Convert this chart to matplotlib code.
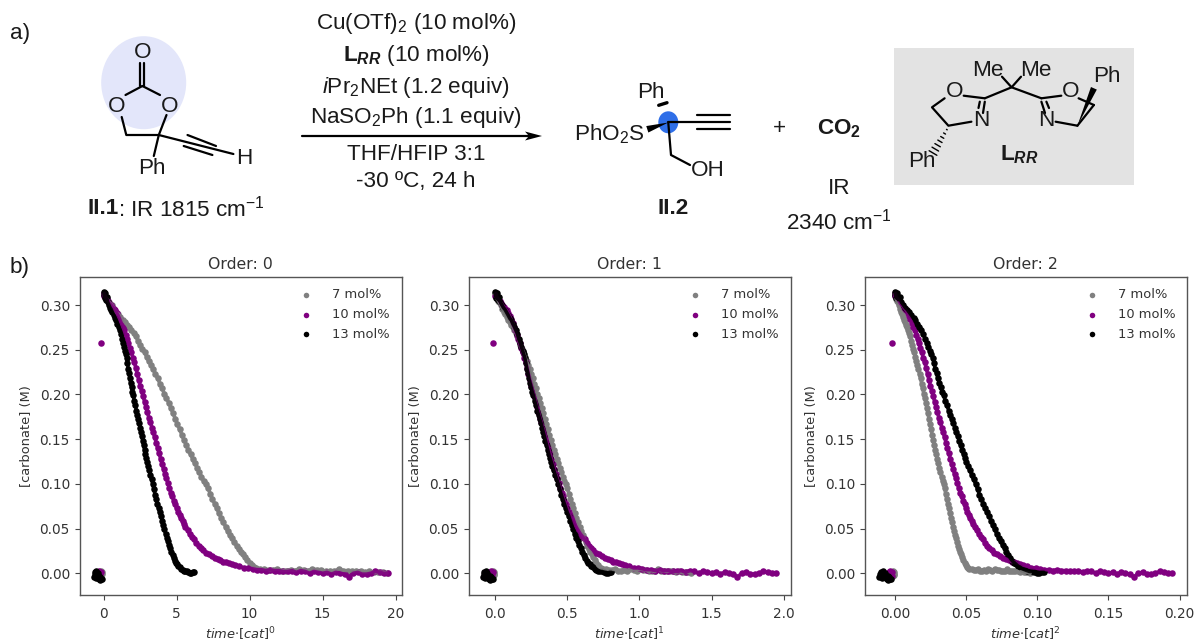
import numpy as np
import matplotlib
matplotlib.use("Agg")
import matplotlib.pyplot as plt
from matplotlib.patches import Ellipse, Rectangle, Polygon

plt.rcParams['mathtext.fontset'] = 'custom'
plt.rcParams['mathtext.rm'] = 'Liberation Sans'
plt.rcParams['mathtext.it'] = 'Liberation Sans:italic'
plt.rcParams['mathtext.bf'] = 'Liberation Sans:bold'
plt.rcParams['mathtext.bfit'] = 'Liberation Sans:italic:bold'

# ---------- data: (time, [carbonate]) ----------
points_7 = [(-.28,.001),(-.24,-.003),(-.2,.002),(-.16,-.002),(-.12,.001),(-.08,-.001),
 (0,.312),(.1,.310),(.2,.307),(.3,.305),(.4,.303),(.55,.300),(.7,.296),(.85,.292),(1,.290),(1.15,.287),
 (1.3,.283),(1.45,.281),(1.6,.278),(1.75,.275),(1.9,.272),(2.05,.269),(2.2,.265),(2.35,.260),(2.5,.255),
 (2.65,.251),(2.8,.247),(2.95,.242),(3.1,.237),(3.25,.233),(3.4,.228),(3.55,.223),(3.7,.218),(3.85,.212),
 (4,.207),(4.15,.201),(4.3,.196),(4.45,.191),(4.6,.185),(4.75,.179),(4.9,.173),(5.05,.167),(5.2,.161),
 (5.35,.155),(5.5,.149),(5.65,.144),(5.8,.138),(5.95,.133),(6.1,.128),(6.25,.123),(6.4,.118),(6.55,.113),
 (6.7,.108),(6.85,.103),(7,.100),(7.15,.095),(7.3,.089),(7.45,.083),(7.6,.078),(7.75,.073),(7.9,.067),
 (8.05,.062),(8.2,.057),(8.35,.052),(8.5,.047),(8.65,.043),(8.8,.039),(8.95,.035),(9.1,.031),(9.25,.027),
 (9.4,.024),(9.55,.021),(9.7,.018),(9.85,.015),(10,.012),(10.15,.009),(10.3,.007),(10.45,.006),(10.7,.005),
 (11,.005),(11.3,.004),(11.6,.004),(11.9,.005),(12.2,.003),(12.5,.003),(12.8,.004),(13.1,.003),(13.4,.005),
 (13.7,.004),(14,.003),(14.3,.005),(14.6,.004),(14.9,.004),(15.2,.002),(15.5,.003),(15.8,.002),(16.1,.005),
 (16.4,.003),(16.7,.003),(17,.002),(17.3,.003),(17.6,.002),(17.9,.001),(18.2,.002),(18.5,.001),(18.8,.001),
 (19.1,.001),(19.4,.000)]

points_10 = [(-.18,.258),(-.38,.001),(-.34,-.002),(-.3,.003),(-.26,.000),(-.22,-.003),(-.18,.001),
 (0,.31),(.05,.313),(.1,.309),(.2,.307),(.3,.305),(.4,.302),(.5,.300),(.6,.298),(.7,.296),(.8,.294),
 (.9,.291),(1,.288),(1.1,.284),(1.2,.280),(1.3,.276),(1.4,.272),(1.5,.267),(1.6,.262),(1.7,.257),(1.8,.252),
 (1.9,.247),(2,.241),(2.1,.236),(2.2,.230),(2.3,.223),(2.4,.216),(2.5,.210),(2.6,.204),(2.7,.198),(2.8,.192),
 (2.9,.186),(3,.180),(3.1,.174),(3.2,.169),(3.3,.163),(3.4,.158),(3.5,.152),(3.6,.146),(3.7,.140),(3.8,.134),
 (3.9,.128),(4,.122),(4.1,.117),(4.2,.111),(4.3,.106),(4.4,.101),(4.5,.095),(4.6,.090),(4.7,.086),(4.8,.081),
 (4.9,.077),(5,.073),(5.1,.069),(5.2,.065),(5.3,.062),(5.4,.058),(5.5,.055),(5.6,.052),(5.75,.048),(5.9,.044),
 (6.05,.041),(6.2,.038),(6.35,.034),(6.5,.031),(6.65,.028),(6.8,.026),(7,.023),(7.2,.021),(7.4,.019),(7.6,.017),
 (7.8,.016),(8,.015),(8.2,.013),(8.4,.013),(8.6,.011),(8.8,.010),(9,.009),(9.3,.008),(9.6,.006),(9.9,.006),
 (10.2,.005),(10.5,.004),(10.8,.004),(11.1,.003),(11.4,.004),(11.7,.003),(12,.003),(12.3,.002),(12.6,.002),
 (12.9,.003),(13.2,.001),(13.5,.003),(13.8,.002),(14.1,.000),(14.4,.002),(14.7,.001),(15,.000),(15.3,.001),
 (15.6,-.001),(15.9,.001),(16.2,.000),(16.5,-.001),(16.8,-.004),(17.1,.000),(17.4,.001),(17.7,-.001),(18,-.001),
 (18.3,.000),(18.6,.002),(18.9,.001),(19.2,.000),(19.5,.000)]

points_13 = [(-.66,-.004),(-.62,-.001),(-.58,.001),(-.54,-.005),(-.5,.002),(-.46,-.002),(-.42,.000),(-.38,-.005),
 (-.34,-.006),(-.3,-.003),(-.26,-.007),(-.22,-.004),(-.18,-.006),(-.14,-.006),
 (0,.315),(.03,.311),(.06,.308),(.1,.313),(.15,.306),(.2,.309),(.28,.303),(.36,.300),(.44,.297),(.52,.295),
 (.6,.292),(.68,.289),(.78,.285),(.86,.283),(.94,.279),(1.02,.276),(1.1,.272),(1.18,.268),(1.26,.262),(1.33,.258),
 (1.4,.253),(1.46,.249),(1.52,.245),(1.58,.241),(1.63,.235),(1.68,.229),(1.74,.224),(1.79,.218),(1.85,.213),
 (1.91,.208),(1.97,.203),(2.03,.199),(2.1,.193),(2.17,.188),(2.24,.182),(2.31,.177),(2.38,.172),(2.44,.168),
 (2.5,.163),(2.56,.158),(2.62,.153),(2.68,.148),(2.74,.143),(2.8,.138),(2.86,.133),(2.92,.129),(2.98,.125),
 (3.05,.120),(3.12,.115),(3.2,.110),(3.28,.105),(3.36,.100),(3.44,.094),(3.52,.088),(3.6,.083),(3.68,.078),
 (3.76,.073),(3.84,.068),(3.92,.064),(4,.059),(4.08,.054),(4.16,.049),(4.24,.044),(4.32,.040),(4.4,.036),
 (4.48,.032),(4.56,.028),(4.64,.024),(4.72,.020),(4.8,.017),(4.88,.014),(4.96,.012),(5.04,.010),(5.12,.008),
 (5.2,.007),(5.3,.005),(5.4,.004),(5.5,.003),(5.6,.002),(5.7,.002),(5.8,.001),(5.9,.000),(6,.000),(6.1,.001),(6.2,.001)]

cat_loadings = [0.07, 0.10, 0.13]       # [cat] scale factor used for the normalised time axis
series_labels = ['7 mol%', '10 mol%', '13 mol%']
series_colors = ['#808080', '#800080', '#000000']
orders = [0, 1, 2]
xticks_by_order = [[0, 5, 10, 15, 20], [0.0, 0.5, 1.0, 1.5, 2.0], [0.00, 0.05, 0.10, 0.15, 0.20]]
xfmt_by_order = ['%d', '%.1f', '%.2f']
xlims_by_order = [(-1.64, 20.41), (-0.184, 2.049), (-0.0211, 0.2052)]
yticks = [0.00, 0.05, 0.10, 0.15, 0.20, 0.25, 0.30]
ylim = (-0.0243, 0.3317)
axes_px = [(79.7, 401.7), (468.7, 790.7), (864.7, 1187.0)]

W, H = 1194, 642
fig = plt.figure(figsize=(W / 100, H / 100), dpi=100, facecolor='white')

# ---------- scheme overlay in pixel coordinates ----------
bg = fig.add_axes([0, 0, 1, 1], zorder=0)
bg.set_xlim(0, W)
bg.set_ylim(H, 0)
bg.axis('off')

SF = 'Liberation Sans'
FS = 16.2
LW = 1.6


def T(x, y, s, size=FS, ha='center', **kw):
    bg.text(x, y, s, family=SF, fontsize=size, ha=ha, va='center', color='#1a1a1a', **kw)


def L(*pts, lw=LW, color='black'):
    xs, ys = zip(*pts)
    bg.plot(xs, ys, color=color, lw=lw, solid_capstyle='round', solid_joinstyle='round')


def wedge(p, q, w=3.0):
    p, q = np.array(p, float), np.array(q, float)
    d = q - p
    n = np.array([-d[1], d[0]]) / np.hypot(*d)
    bg.add_patch(Polygon([p, q + n * w, q - n * w], closed=True, fc='black', ec='none'))


def hashed(p, q, n=7, w=4.5):
    p, q = np.array(p, float), np.array(q, float)
    d = q - p
    nn = np.array([-d[1], d[0]]) / np.hypot(*d)
    for f in np.linspace(0.1, 1, n):
        c = p + d * f
        L(c + nn * w * f, c - nn * w * f, lw=1.0)


T(10, 33, 'a)', ha='left')
T(10, 268, 'b)', ha='left')

# carbonate II.1
bg.add_patch(Ellipse((143.7, 82.7), 85, 93, fc='#E3E6FA', ec='none'))
T(142.4, 52.7, 'O'); T(116.7, 106, 'O'); T(169.2, 106, 'O')
T(152.3, 168, 'Ph'); T(244, 158, 'H')
L((140.4, 86), (140.4, 63)); L((144.4, 86), (144.4, 63))
L((142.4, 86), (125.5, 95)); L((142.4, 86), (160, 95))
L((121.7, 117), (126.3, 135), (158.8, 135), (166.5, 115))
L((158.8, 135), (153.8, 156))
L((158.8, 135), (233.4, 154))
L((187.5, 135), (216, 146)); L((183.7, 146), (212.4, 155))
T(118.5, 208.5, 'II.1', ha='right', fontweight='bold')
T(118.5, 208.5, r': IR 1815 cm$^{-1}$', ha='left')

# conditions
T(416, 24, r'Cu(OTf)$_2$ (10 mol%)')
T(416, 55, r'$\mathbf{L}_{\mathbfit{RR}}$ (10 mol%)')
T(416, 87, r'$\mathit{i}$Pr$_2$NEt (1.2 equiv)')
T(416, 117, r'NaSO$_2$Ph (1.1 equiv)')
T(416, 154, 'THF/HFIP 3:1')
T(416, 182, '-30 ºC, 24 h')
L((302, 136), (532, 136))
bg.add_patch(Polygon([(542, 136), (525, 131.5), (529, 136), (525, 140.5)], closed=True, fc='black', ec='none'))

# product II.2
bg.add_patch(Ellipse((668.3, 122.3), 20, 22, fc='#2F6FE8', ec='none'))
T(651, 92, 'Ph'); T(609, 134, r'PhO$_2$S')
T(707.3, 170, 'OH')
L((658.7, 105.3), (667, 102.7), lw=2.4)
wedge((668.3, 122.5), (647.3, 129.3), 3.4)
L((668.3, 122), (730.3, 122)); L((697, 115), (730.3, 115)); L((697, 128.5), (730.3, 128.5))
L((668.3, 123), (671, 155), (690, 165))
T(673, 209, 'II.2', fontweight='bold')

T(779, 128, '+')
T(839.4, 129, r'$\mathbf{CO_2}$')
T(839.4, 189, 'IR')
T(838.6, 221.7, r'2340 cm$^{-1}$')

# ligand L_RR
bg.add_patch(Rectangle((893.7, 48.3), 240.3, 136.7, fc='#E3E3E3', ec='none'))
T(987.9, 70.7, 'Me'); T(1035.7, 70.7, 'Me')
T(954.2, 91.7, 'O'); T(1070.9, 91.7, 'O')
T(981, 120.7, 'N'); T(1046, 120.7, 'N')
T(1106.5, 76, 'Ph'); T(921.7, 161.7, 'Ph')
T(1019, 155, r'$\mathbf{L}_{\mathbfit{RR}}$')
L((1002, 76.7), (1011.6, 87.3), (1021, 76.7))
L((984.8, 98.3), (1011.6, 87.3), (1041.4, 98.3))
L((984.8, 98.3), (963.7, 95.7))
L((944.6, 98.3), (932, 107.3), (948.4, 125.7), (971.4, 121.7))
L((984.8, 101.7), (983, 113)); L((979.8, 101.7), (978.5, 108))
L((1041.4, 98.3), (1061.3, 95.7))
L((1041.4, 101.7), (1045, 113)); L((1046.4, 101.7), (1049, 108))
L((1055.6, 121.7), (1077.4, 125.7))
wedge((1077.4, 125.7), (1093.9, 88.3), 3.2)
L((1077.4, 125.7), (1093.9, 105))
L((1078.6, 98.3), (1093.9, 105))
hashed((948.4, 127), (933, 153))

# ---------- kinetic panels ----------
all_points = [points_7, points_10, points_13]
top, bottom = 276.7, 595.0
for k, order in enumerate(orders):
    x0, x1 = axes_px[k]
    ax = fig.add_axes([x0 / W, 1 - bottom / H, (x1 - x0) / W, (bottom - top) / H], zorder=2, facecolor='none')
    for pts, cat, lab, col in zip(all_points, cat_loadings, series_labels, series_colors):
        arr = np.array(pts)
        xs = arr[:, 0] * cat ** order
        run = arr[:, 0] >= 0
        ax.plot(xs[run], arr[run, 1], color=col, lw=2.6, alpha=0.9, solid_capstyle='round')
        ax.scatter(xs, arr[:, 1], s=22, color=col, label=lab, linewidths=0)
    ax.set_xlim(*xlims_by_order[k])
    ax.set_ylim(*ylim)
    ax.set_xticks(xticks_by_order[k])
    ax.set_xticklabels([xfmt_by_order[k] % v for v in xticks_by_order[k]])
    ax.set_yticks(yticks)
    ax.set_yticklabels(['%.2f' % v for v in yticks])
    ax.tick_params(labelsize=9.8, colors='#444444', labelcolor='#333333', length=3.5, width=0.8)
    ax.tick_params(axis='x', pad=5.5)
    for s in ax.spines.values():
        s.set_color('#555555')
        s.set_linewidth(1.0)
    ax.set_title('Order: %d' % order, fontsize=11.3, color='#333333', pad=5.5)
    ax.set_ylabel('[carbonate] (M)', fontsize=9.4, color='#333333', labelpad=5)
    ax.set_xlabel(r'$time{\cdot}[cat]^{%d}$' % order, fontsize=9.4, color='#333333', labelpad=2.5,
                  math_fontfamily='dejavusans')
    ax.legend(loc='upper right', frameon=False, fontsize=9.4, labelspacing=0.5, handletextpad=1.0,
              borderaxespad=0.5, labelcolor='#333333', scatterpoints=1, markerscale=0.85)

fig.savefig('out.png', dpi=100)
